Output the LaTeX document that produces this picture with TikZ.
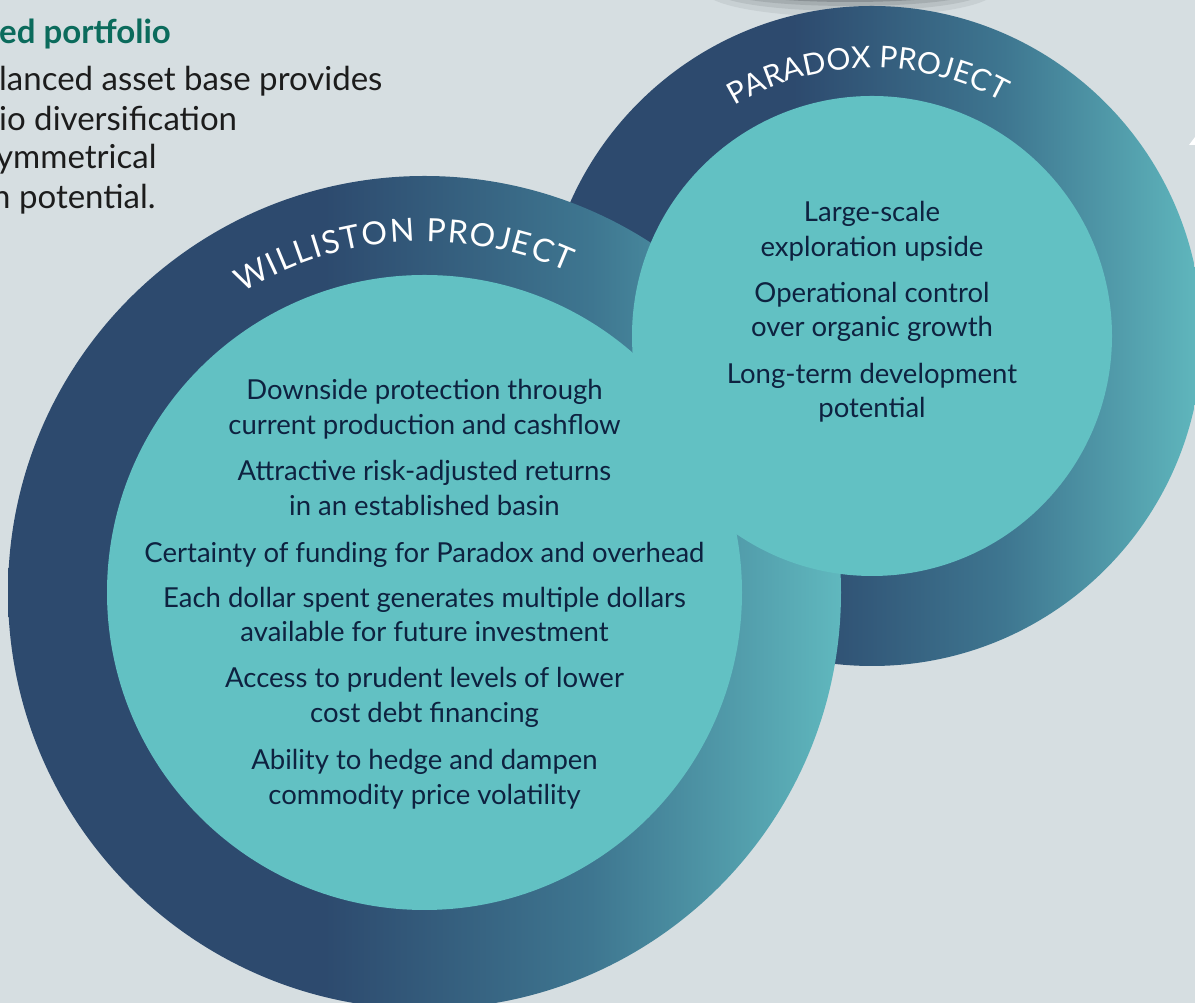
\documentclass[tikz,border=0pt]{standalone}
\usepackage{fontspec}
\setmainfont{Lato}
\usetikzlibrary{positioning,decorations.text}

\definecolor{bgcol}{HTML}{D6DEE1}
\definecolor{ringdark}{HTML}{2D4A6E}
\definecolor{ringmid}{HTML}{3E7690}
\definecolor{ringlight}{HTML}{60B8BE}
\definecolor{corecol}{HTML}{62C1C3}
\definecolor{navytext}{HTML}{0E2240}
\definecolor{headgreen}{HTML}{0B6B5C}
\definecolor{bodytext}{HTML}{1C1C1C}
\definecolor{blobgrey}{HTML}{8A9195}

\pgfdeclarehorizontalshading{ringshade}{100bp}{color(0bp)=(ringdark); color(25bp)=(ringdark); color(44bp)=(ringdark); color(60bp)=(ringmid); color(75bp)=(ringlight); color(100bp)=(ringlight)}

\begin{document}
\begin{tikzpicture}[x=1pt, y=1pt,
	wline/.style={text=navytext, font=\fontsize{27.5}{27.5}\selectfont, inner sep=0pt, anchor=base},
	bline/.style={text=bodytext, font=\fontsize{33}{33}\selectfont, inner sep=0pt, anchor=base west},
	ring/.style={shading=ringshade},
	core/.style={fill=corecol},
	ringlabel/.style={decorate, decoration={text along path, text align=center, text color=white}}
	]
	\useasboundingbox (0,0) rectangle (1195,1003);
	\clip (0,0) rectangle (1195,1003);
	\fill[bgcol] (0,0) rectangle (1195,1003);
	%% shadow at top
	\coordinate (blob) at (850,1012);
	\fill[blobgrey, opacity=0.18] (blob) ellipse [x radius=145, y radius=26];
	\fill[blobgrey, opacity=0.25] (blob) ellipse [x radius=135, y radius=20];
	\fill[blobgrey, opacity=0.4] (blob) ellipse [x radius=125, y radius=15];
	\fill[blobgrey] (blob) ellipse [x radius=112, y radius=11];
	%% circles
	\coordinate (wc) at (424.5,410.5);
	\coordinate (pc) at (872,667);
	\shade[ring] (pc) circle [radius=330];
	\shade[ring] (wc) circle [radius=416.5];
	\fill[core] (pc) circle [radius=240];
	\fill[core] (wc) circle [radius=317.5];
	%% ring labels
	\path[ringlabel, decoration={text={|\fontsize{32}{32}\selectfont\kern1.5pt|WILLISTON PROJECT}}]
		([shift={(133.7:351)}]wc) arc [start angle=133.7, end angle=53.7, radius=351];
	\path[ringlabel, decoration={text={|\fontsize{30}{30}\selectfont|PARADOX PROJECT}}]
		([shift={(131:268)}]pc) arc [start angle=131, end angle=51, radius=268];
	%% Williston
	\node[wline] (w1) at (424.5,603) {Downside protection through};
	\node[below=35pt of w1.base, wline] (w2) {current production and cashflow};
	\node[below=46pt of w2.base, wline] (w3) {Attractive risk-adjusted returns};
	\node[below=35pt of w3.base, wline] (w4) {in an established basin};
	\node[below=47pt of w4.base, wline] (w5) {Certainty of funding for Paradox and overhead};
	\node[below=45pt of w5.base, wline] (w6) {Each dollar spent generates multiple dollars};
	\node[below=34pt of w6.base, wline] (w7) {available for future investment};
	\node[below=46pt of w7.base, wline] (w8) {Access to prudent levels of lower};
	\node[below=35pt of w8.base, wline] (w9) {cost debt financing};
	\node[below=47pt of w9.base, wline] (w10) {Ability to hedge and dampen};
	\node[below=35pt of w10.base, wline] (w11) {commodity price volatility};
	%% Paradox
	\node[wline] (p1) at (872,781) {Large-scale};
	\node[below=35pt of p1.base, wline] (p2) {exploration upside};
	\node[below=46pt of p2.base, wline] (p3) {Operational control};
	\node[below=34pt of p3.base, wline] (p4) {over organic growth};
	\node[below=47pt of p4.base, wline] (p5) {Long-term development};
	\node[below=34pt of p5.base, wline] (p6) {potential};
	%% top left text
	\node[bline, text=headgreen, font=\fontsize{33}{33}\selectfont\bfseries] (h0) at (-1,959) {ed portfolio};
	\node[below=47pt of h0.base west, bline] (h1) {lanced asset base provides};
	\node[below=40pt of h1.base west, bline] (h2) {io diversification};
	\node[below=38pt of h2.base west, bline, xshift=-3pt] (h3) {ymmetrical};
	\node[below=40pt of h3.base west, bline, xshift=-4pt] (h4) {n potential.};
	%% mark at right edge
	\coordinate (m1) at (1189,858);
	\fill[white] (m1) -- (1195,866) -- (1195,858) -- cycle;
\end{tikzpicture}
\end{document}
